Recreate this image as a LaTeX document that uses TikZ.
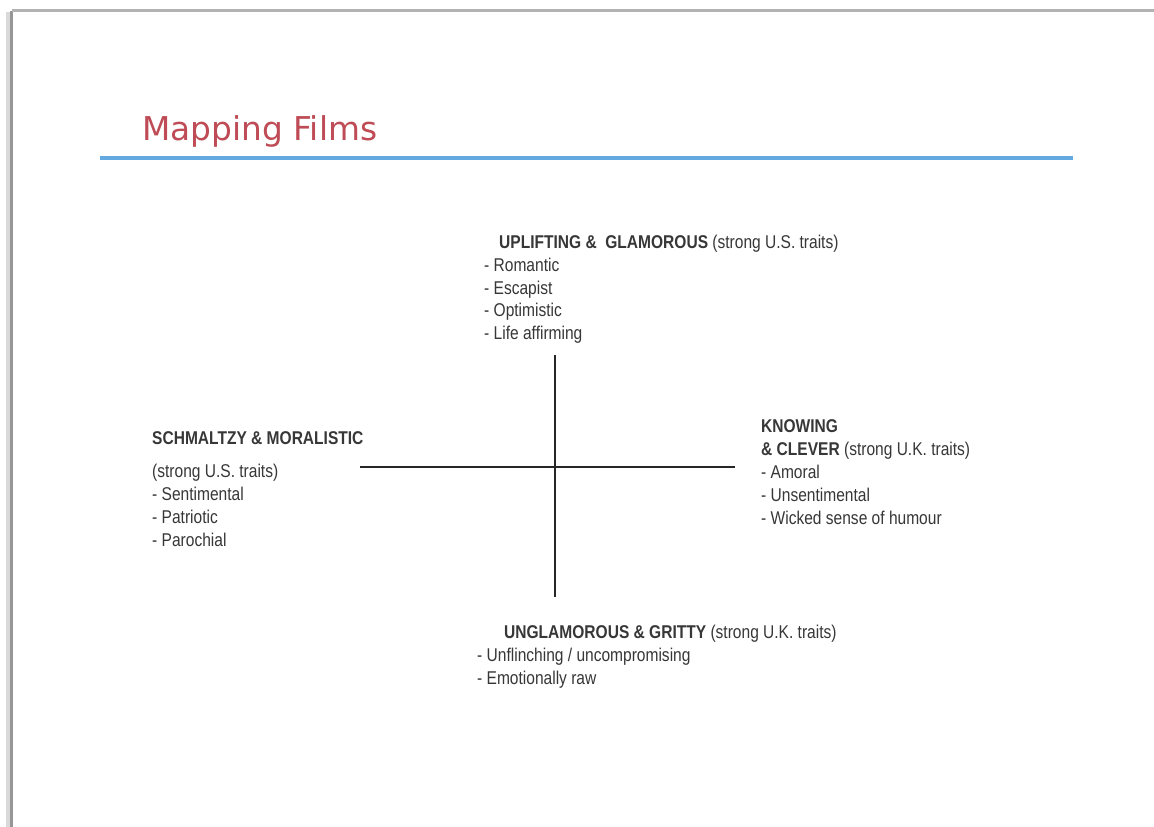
\documentclass[tikz,border=0pt]{standalone}
\usepackage{fontspec}
\setmainfont{Liberation Sans}
\newfontfamily\narrowsans[FakeStretch=0.84]{Liberation Sans}
\newfontfamily\titlefont{DejaVu Sans}
\definecolor{bodytext}{RGB}{55,55,55}
\definecolor{titlered}{RGB}{190,75,85}
\definecolor{rulebule}{RGB}{100,170,225}
\definecolor{framegray}{RGB}{150,150,150}
\tikzset{
  item/.style={anchor=base west, inner sep=0pt, text=bodytext,
    font=\narrowsans\fontsize{18.5}{22}\selectfont},
  axis/.style={line width=1.2pt, draw=black!85},
}
\begin{document}
\begin{tikzpicture}[x=1pt, y=-1pt]
  \useasboundingbox (0,0) rectangle (1154,827);
  \fill[white] (0,0) rectangle (1154,827);
  % slide frame with a soft shadow on the left edge
  \draw[line width=4pt, black!15] (8,827) -- (8,12);
  \draw[line width=3pt, framegray] (11.5,827) -- (11.5,10.5);
  \draw[line width=2.5pt, black!30] (11.5,10.5) -- (1154,10.5);

  % title and rule
  \node[anchor=base west, inner sep=0pt, text=titlered,
        font=\titlefont\fontsize{32.8}{38}\selectfont] (title) at (142,140) {Mapping Films};
  \draw[line width=4pt, rulebule] (100,158) -- (1073,158);

  % axes
  \coordinate (vtop) at (555,355);
  \coordinate (vbot) at (555,597);
  \coordinate (hleft) at (360,467);
  \coordinate (hright) at (735,467);
  \draw[axis] (vtop) -- (vbot);
  \draw[axis] (hleft) -- (hright);

  % top pole
  \node[item] (up)  at (499,248) {\textbf{UPLIFTING \&\ \ GLAMOROUS} (strong U.S. traits)};
  \node[item] (up1) at (484,271) {- Romantic};
  \node[item] (up2) at (484,294) {- Escapist};
  \node[item] (up3) at (484,316) {- Optimistic};
  \node[item] (up4) at (484,339) {- Life affirming};

  % left pole
  \node[item] (lf)  at (152,444) {\textbf{SCHMALTZY \& MORALISTIC}};
  \node[item] (lf0) at (152,477) {(strong U.S. traits)};
  \node[item] (lf1) at (152,500) {- Sentimental};
  \node[item] (lf2) at (152,523) {- Patriotic};
  \node[item] (lf3) at (152,546) {- Parochial};

  % right pole
  \node[item] (rt)  at (761,432) {\textbf{KNOWING}};
  \node[item] (rt0) at (761,455) {\textbf{\& CLEVER} (strong U.K. traits)};
  \node[item] (rt1) at (761,478) {- Amoral};
  \node[item] (rt2) at (761,501) {- Unsentimental};
  \node[item] (rt3) at (761,524) {- Wicked sense of humour};

  % bottom pole
  \node[item] (dn)  at (504,638) {\textbf{UNGLAMOROUS \& GRITTY} (strong U.K. traits)};
  \node[item] (dn1) at (477,661) {- Unflinching / uncompromising};
  \node[item] (dn2) at (477,684) {- Emotionally raw};
\end{tikzpicture}
\end{document}
